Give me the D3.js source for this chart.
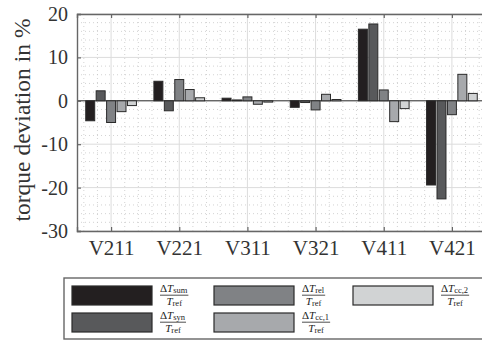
<!DOCTYPE html>
<html>
<head>
<meta charset="utf-8">
<script src="https://cdn.jsdelivr.net/npm/d3@7"></script>
<style>
  body { margin: 0; background: #fff; }
  svg { display: block; }
</style>
</head>
<body>
<svg id="canvas" width="482" height="341"></svg>
<script>
const categories = ['V211', 'V221', 'V311', 'V321', 'V411', 'V421'];
const seriesNames = ['sum', 'syn', 'rel', 'cc1', 'cc2'];
const seriesSubs = ['sum', 'syn', 'rel', 'cc,1', 'cc,2'];
const seriesColors = ['#231f20', '#58595b', '#808285', '#a7a9ac', '#d1d3d4'];
const sumValues = [-4.6, 4.5, 0.6, -1.5, 16.5, -19.4];
const synValues = [2.3, -2.3, 0.2, -0.4, 17.7, -22.6];
const relValues = [-5.0, 4.9, 0.9, -2.1, 2.5, -3.2];
const cc1Values = [-2.5, 2.6, -0.8, 1.5, -4.8, 6.1];
const cc2Values = [-1.1, 0.7, -0.3, 0.3, -1.8, 1.7];
const yTicks = [-30, -20, -10, 0, 10, 20];

const seriesValues = [sumValues, synValues, relValues, cc1Values, cc2Values];
const FONT = 'Liberation Serif';

const svg = d3.select('#canvas').attr('font-family', FONT);
const mLeft = 77, mTop = 14, mBottom = 231, mRight = 486;

// category axis: position 1..6, half a slot of padding on each side
const x = d3.scaleLinear().domain([0.5, 6.5]).range([mLeft, mRight]);
const y = d3.scaleLinear().domain([-30, 20]).range([mBottom, mTop]);

const plot = svg.append('g');

// minor grid (dotted)
const minorY = d3.range(-30, 20.01, 2).filter(v => v % 10 !== 0);
const minorX = d3.range(0.6, 6.5, 0.2).filter(v => Math.abs(v - Math.round(v)) > 0.05);
plot.selectAll('.minor-y').data(minorY).enter().append('line')
  .attr('x1', mLeft).attr('x2', mRight)
  .attr('y1', d => y(d)).attr('y2', d => y(d))
  .attr('stroke', '#c8c8c8').attr('stroke-width', 0.8).attr('stroke-dasharray', '1,3');
plot.selectAll('.minor-x').data(minorX).enter().append('line')
  .attr('x1', d => x(d)).attr('x2', d => x(d))
  .attr('y1', mTop).attr('y2', mBottom)
  .attr('stroke', '#c8c8c8').attr('stroke-width', 0.8).attr('stroke-dasharray', '1,3');

// major grid
plot.selectAll('.major-y').data(yTicks).enter().append('line')
  .attr('x1', mLeft).attr('x2', mRight)
  .attr('y1', d => y(d)).attr('y2', d => y(d))
  .attr('stroke', '#dcdcdc').attr('stroke-width', 1);
plot.selectAll('.major-x').data(categories).enter().append('line')
  .attr('x1', (d, i) => x(i + 1)).attr('x2', (d, i) => x(i + 1))
  .attr('y1', mTop).attr('y2', mBottom)
  .attr('stroke', '#dcdcdc').attr('stroke-width', 1);

// zero line
plot.append('line')
  .attr('x1', mLeft).attr('x2', mRight)
  .attr('y1', y(0)).attr('y2', y(0))
  .attr('stroke', '#333').attr('stroke-width', 1);

// bars
const slot = x(2) - x(1);
const step = slot * 0.153;
const barW = step * 0.86;
seriesValues.forEach((vals, s) => {
  plot.selectAll('.bar-' + seriesNames[s]).data(vals).enter().append('rect')
    .attr('x', (d, i) => x(i + 1) + (s - 2) * step - barW / 2)
    .attr('y', d => y(Math.max(0, d)))
    .attr('width', barW)
    .attr('height', d => Math.abs(y(d) - y(0)))
    .attr('fill', seriesColors[s])
    .attr('stroke', '#2a2a2a').attr('stroke-width', 1);
});

// axes
const axisColor = '#666';
const yAxis = svg.append('g').attr('transform', `translate(${mLeft},0)`)
  .call(d3.axisLeft(y).tickValues(yTicks).tickSize(-4).tickPadding(9)
    .tickFormat(d => String(d)));
const xAxisBottom = svg.append('g').attr('transform', `translate(0,${mBottom})`)
  .call(d3.axisBottom(x).tickValues([1, 2, 3, 4, 5, 6]).tickSize(-4).tickPadding(9)
    .tickFormat(d => categories[d - 1]));
const xAxisTop = svg.append('g').attr('transform', `translate(0,${mTop})`)
  .call(d3.axisTop(x).tickValues([1, 2, 3, 4, 5, 6]).tickSize(-4).tickFormat(''));
[yAxis, xAxisBottom, xAxisTop].forEach(a => {
  a.attr('font-family', FONT);
  a.select('.domain').attr('stroke', axisColor).attr('stroke-width', 1.4);
  a.selectAll('.tick line').attr('stroke', axisColor).attr('stroke-width', 1.2);
  a.selectAll('text').attr('font-family', FONT).attr('fill', '#333');
});
yAxis.attr('font-size', 20);
xAxisBottom.attr('font-size', 21);
yAxis.selectAll('text').attr('font-size', 20);
xAxisBottom.selectAll('text').attr('font-size', 21);

// y label
svg.append('text')
  .attr('transform', 'translate(30,120) rotate(-90)')
  .attr('text-anchor', 'middle')
  .attr('font-family', FONT)
  .attr('font-size', 23.5).attr('fill', '#333')
  .text('torque deviation in %');

// legend
const legend = svg.append('g').attr('font-family', FONT);
legend.append('rect')
  .attr('x', 64).attr('y', 278).attr('width', 430).attr('height', 61)
  .attr('fill', '#fff').attr('stroke', '#666').attr('stroke-width', 1.4);
const colX = [72, 214, 353];
const rowY = [286, 313];
seriesNames.forEach((name, s) => {
  const col = Math.floor(s / 2), row = s % 2;
  const gx = colX[col], gy = rowY[row];
  legend.append('rect')
    .attr('x', gx).attr('y', gy).attr('width', 80).attr('height', 19)
    .attr('fill', seriesColors[s]).attr('stroke', '#2a2a2a').attr('stroke-width', 1.2);
  const lx = gx + 88;
  const num = legend.append('text').attr('x', lx).attr('y', gy + 6)
    .attr('font-size', 11).attr('fill', '#222');
  num.append('tspan').text('Δ');
  num.append('tspan').attr('font-style', 'italic').text('T');
  num.append('tspan').attr('font-size', 8.5).attr('dy', 1).text(seriesSubs[s]);
  const nw = num.node().getComputedTextLength();
  legend.append('line')
    .attr('x1', lx).attr('x2', lx + nw + 1)
    .attr('y1', gy + 9.2).attr('y2', gy + 9.2)
    .attr('stroke', '#222').attr('stroke-width', 0.8);
  const den = legend.append('text').attr('x', lx + (nw + 1) / 2).attr('y', gy + 19)
    .attr('text-anchor', 'middle').attr('font-size', 11).attr('fill', '#222');
  den.append('tspan').attr('font-style', 'italic').text('T');
  den.append('tspan').attr('font-size', 8.5).attr('dy', 1).text('ref');
});
</script>
</body>
</html>
